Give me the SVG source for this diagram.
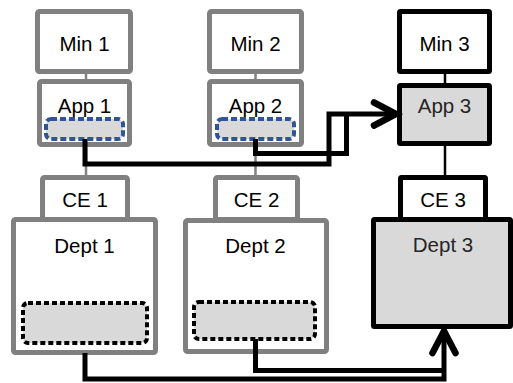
<svg xmlns="http://www.w3.org/2000/svg" width="513" height="383" viewBox="0 0 513 383">
  <style>
    .gray { fill: #ffffff; stroke: #808080; stroke-width: 5; }
    .dark { fill: #ffffff; stroke: #000000; stroke-width: 5; }
    .darkfill { fill: #d9d9d9; stroke: #000000; stroke-width: 5; }
    .slotBlue { fill: #d9d9d9; stroke: #2f5597; stroke-width: 4; stroke-dasharray: 6 3; }
    .slotBlack { fill: #d9d9d9; stroke: #000000; stroke-width: 4; stroke-dasharray: 5 3; }
    .label { font-family: "Liberation Sans", Arial, sans-serif; font-size: 20.5px; fill: #000000; text-anchor: middle; }
    .soft { fill: #262626; }
    .link { fill: none; stroke-width: 2.5; }
    .flow { fill: none; stroke: #000000; stroke-width: 5; stroke-linejoin: miter; }
  </style>
  <defs>
    <marker id="chevron" markerUnits="userSpaceOnUse" viewBox="-30 -16 34 32" markerWidth="34" markerHeight="32" refX="0" refY="0" orient="auto" overflow="visible">
      <path d="M -22 -11.5 L 0 0 L -22 11.5" fill="none" stroke="#000000" stroke-width="6.5" stroke-linecap="round" stroke-linejoin="miter"/>
    </marker>
  </defs>

  <rect width="513" height="383" fill="#ffffff"/>

  <!-- column 1 -->
  <g id="min1">
    <rect class="gray" x="37.5" y="11.5" width="93" height="60" rx="2"/>
    <text class="label" x="84.5" y="51">Min 1</text>
  </g>
  <g id="app1">
    <rect class="gray" x="39.5" y="81.5" width="90" height="63" rx="2"/>
    <text class="label" x="84.5" y="113">App 1</text>
    <rect class="slotBlue" x="46" y="119" width="77" height="20" rx="5"/>
  </g>
  <g id="ce1">
    <rect class="gray" x="42.5" y="177.5" width="85" height="42" rx="2"/>
    <text class="label" x="85" y="207">CE 1</text>
  </g>
  <g id="dept1">
    <rect class="gray" x="13.5" y="219.5" width="142" height="133" rx="2"/>
    <text class="label" x="84.5" y="253">Dept 1</text>
    <rect class="slotBlack" x="23" y="303" width="124" height="40" rx="5"/>
  </g>

  <!-- column 2 -->
  <g id="min2">
    <rect class="gray" x="209.5" y="11.5" width="92" height="60" rx="2"/>
    <text class="label" x="255.5" y="51">Min 2</text>
  </g>
  <g id="app2">
    <rect class="gray" x="209.5" y="81.5" width="92" height="63" rx="2"/>
    <text class="label" x="255.5" y="113">App 2</text>
    <rect class="slotBlue" x="217" y="119" width="77" height="20" rx="5"/>
  </g>
  <g id="ce2">
    <rect class="gray" x="215.5" y="177.5" width="82" height="42" rx="2"/>
    <text class="label" x="256.5" y="207">CE 2</text>
  </g>
  <g id="dept2">
    <rect class="gray" x="185.5" y="220.5" width="141" height="131" rx="2"/>
    <text class="label" x="255.5" y="253">Dept 2</text>
    <rect class="slotBlack" x="194" y="302" width="121" height="37" rx="5"/>
  </g>

  <!-- column 3 -->
  <g id="min3">
    <rect class="dark" x="399.5" y="11.5" width="90" height="60" rx="1"/>
    <text class="label" x="444.5" y="51">Min 3</text>
  </g>
  <g id="app3">
    <rect class="darkfill" x="399.5" y="85.5" width="90" height="58" rx="1"/>
    <text class="label soft" x="444.5" y="113">App 3</text>
  </g>
  <g id="ce3">
    <rect class="dark" x="400.5" y="177.5" width="85" height="42" rx="1"/>
    <text class="label" x="443" y="207">CE 3</text>
  </g>
  <g id="dept3">
    <rect class="darkfill" x="373.5" y="219.5" width="137" height="107" rx="1"/>
    <text class="label soft" x="443" y="252">Dept 3</text>
  </g>

  <g id="connectors">
    <!-- hierarchy links -->
    <path class="link" stroke="#808080" d="M86 74 V79 M86 147 V175 M255.5 74 V79 M255.5 147 V175"/>
    <path class="link" stroke="#000000" d="M445 74 V83 M445 146 V175"/>
    <!-- app flows into App 3 -->
    <path class="flow" d="M255.5 139 V153.5 H346.5 V114"/>
    <path class="flow" d="M85 139 V164 H329 V114 H396" marker-end="url(#chevron)"/>
    <!-- department flows into Dept 3 -->
    <path class="flow" d="M255.5 339 V370.5 H444"/>
    <path class="flow" d="M85 353 V379 H444 V331" marker-end="url(#chevron)"/>
  </g>
</svg>
